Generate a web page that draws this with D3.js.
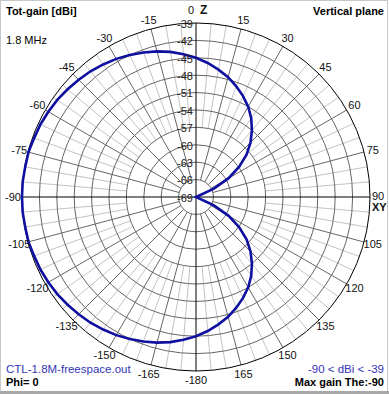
<!DOCTYPE html>
<html>
<head>
<meta charset="utf-8">
<title>Vertical plane</title>
<script src="https://cdnjs.cloudflare.com/ajax/libs/d3/7.8.5/d3.min.js"></script>
<style>
  body { margin: 0; background: #fff; }
  svg { display: block; font-family: 'Liberation Sans', Arial, sans-serif; }
</style>
</head>
<body>
<svg id="svg" width="389" height="394"></svg>
<script>
// elevation angle (deg, 0 = zenith, clockwise) and total gain
const angles = [-180, -175, -170, -165, -160, -155, -150, -145, -140, -135, -130, -125,
  -120, -115, -110, -105, -100, -95, -90, -85, -80, -75, -70, -65,
  -60, -55, -50, -45, -40, -35, -30, -25, -20, -15, -10, -5,
  0, 5, 10, 15, 20, 25, 30, 35, 40, 45, 50, 55,
  60, 65, 70, 75, 80, 85, 90, 95, 100, 105, 110, 115,
  120, 125, 130, 135, 140, 145, 150, 155, 160, 165, 170, 175];
const gains = [-45.0, -44.3, -43.6, -43.0, -42.5, -42.0, -41.5, -41.1, -40.7, -40.4, -40.1, -39.8,
  -39.6, -39.4, -39.3, -39.1, -39.1, -39.0, -39.0, -39.0, -39.1, -39.1, -39.3, -39.4,
  -39.6, -39.8, -40.1, -40.4, -40.7, -41.1, -41.5, -42.0, -42.5, -43.0, -43.6, -44.3,
  -45.0, -45.8, -46.7, -47.6, -48.7, -49.8, -51.0, -52.4, -54.0, -55.7, -57.6, -59.9,
  -62.5, -65.6, -69.4, -74.4, -81.4, -90.0, -90.0, -90.0, -81.4, -74.4, -69.4, -65.6,
  -62.5, -59.9, -57.6, -55.7, -54.0, -52.4, -51.0, -49.8, -48.7, -47.6, -46.7, -45.8];

const ringTicks = [-39, -42, -45, -48, -51, -54, -57, -60, -63, -66, -69];
const angleTicks = [15, 30, 45, 60, 75, 105, 120, 135, 150, 165, 180,
  -15, -30, -45, -60, -75, -90, -105, -120, -135, -150, -165];

const cx = 196, cy = 197, R = 174;
const svg = d3.select('#svg');

const r = d3.scaleLinear().domain([-69, -39]).range([0, R]).clamp(true);
const rad = d => d * Math.PI / 180;

// frame
svg.append('rect').attr('x', 0.5).attr('y', 0.5).attr('width', 387).attr('height', 391)
  .attr('fill', '#fff').attr('stroke', '#c8c8c8');
svg.append('rect').attr('x', 0).attr('y', 391).attr('width', 389).attr('height', 3).attr('fill', '#a8a8a8');

const g = svg.append('g').attr('transform', `translate(${cx},${cy})`);

// minor spokes every 5 deg
const minor = d3.range(0, 360, 5).filter(a => a % 15 !== 0);
g.selectAll('line.minor').data(minor).enter().append('line')
  .attr('x1', a => r(-57) * Math.sin(rad(a))).attr('y1', a => -r(-57) * Math.cos(rad(a)))
  .attr('x2', a => R * Math.sin(rad(a))).attr('y2', a => -R * Math.cos(rad(a)))
  .attr('stroke', '#c4c4c4').attr('stroke-width', 1);

// major spokes every 15 deg
const major = d3.range(0, 360, 15).filter(a => a % 90 !== 0);
g.selectAll('line.major').data(major).enter().append('line')
  .attr('x1', a => r(-66) * Math.sin(rad(a))).attr('y1', a => -r(-66) * Math.cos(rad(a)))
  .attr('x2', a => R * Math.sin(rad(a))).attr('y2', a => -R * Math.cos(rad(a)))
  .attr('stroke', '#666').attr('stroke-width', 1);

// rings
g.selectAll('circle.ring').data(ringTicks.filter(v => v > -69)).enter().append('circle')
  .attr('r', v => r(v)).attr('fill', 'none')
  .attr('stroke', v => v === -39 ? '#000' : '#666').attr('stroke-width', 1);

// axes
g.append('line').attr('x1', -R).attr('x2', R).attr('y1', 0).attr('y2', 0).attr('stroke', '#000');
g.append('line').attr('y1', -R).attr('y2', R).attr('x1', 0).attr('x2', 0).attr('stroke', '#000');

// pattern
const pts = angles.map((a, i) => [rad(a), r(gains[i])]);
g.append('path').datum(pts)
  .attr('d', d3.lineRadial().curve(d3.curveLinearClosed))
  .attr('fill', 'none').attr('stroke', '#0f0fa0').attr('stroke-width', 2.6);

// ring labels
g.selectAll('text.ring').data(ringTicks).enter().append('text')
  .attr('x', -3).attr('y', v => -r(v) + 1).attr('dy', '0.35em')
  .attr('text-anchor', 'end').attr('font-size', 11).attr('fill', '#222')
  .text(v => v);

// angle labels
const LR = 183;
g.selectAll('text.ang').data(angleTicks).enter().append('text')
  .attr('x', a => LR * Math.sin(rad(a))).attr('y', a => -LR * Math.cos(rad(a)))
  .attr('dy', '0.35em').attr('text-anchor', 'middle').attr('font-size', 11).attr('fill', '#111')
  .text(a => a === 180 ? -180 : a);
g.append('text').attr('x', -2).attr('y', -183).attr('text-anchor', 'end')
  .attr('font-size', 11).attr('fill', '#111').text('0');
g.append('text').attr('x', 4).attr('y', -183).attr('font-size', 12).attr('font-weight', 'bold')
  .attr('fill', '#111').text('Z');
g.append('text').attr('x', 176).attr('y', 3).attr('font-size', 11).attr('fill', '#111').text('90');
g.append('text').attr('x', 176).attr('y', 14).attr('font-size', 11).attr('font-weight', 'bold')
  .attr('fill', '#111').text('XY');

// corner texts
svg.append('text').attr('x', 6).attr('y', 15).attr('font-size', 11).attr('font-weight', 'bold').text('Tot-gain [dBi]');
svg.append('text').attr('x', 6).attr('y', 44).attr('font-size', 11).text('1.8 MHz');
svg.append('text').attr('x', 384).attr('y', 15).attr('text-anchor', 'end').attr('font-size', 11)
  .attr('font-weight', 'bold').text('Vertical plane');
svg.append('text').attr('x', 6).attr('y', 373).attr('font-size', 11.5).attr('fill', '#3434b4')
  .text('CTL-1.8M-freespace.out');
svg.append('text').attr('x', 6).attr('y', 386).attr('font-size', 11).attr('font-weight', 'bold').text('Phi= 0');
svg.append('text').attr('x', 384).attr('y', 373).attr('text-anchor', 'end').attr('font-size', 11.5)
  .attr('fill', '#3434b4').text('-90 < dBi < -39');
svg.append('text').attr('x', 384).attr('y', 386).attr('text-anchor', 'end').attr('font-size', 11)
  .attr('font-weight', 'bold').text('Max gain The:-90');
</script>
</body>
</html>
